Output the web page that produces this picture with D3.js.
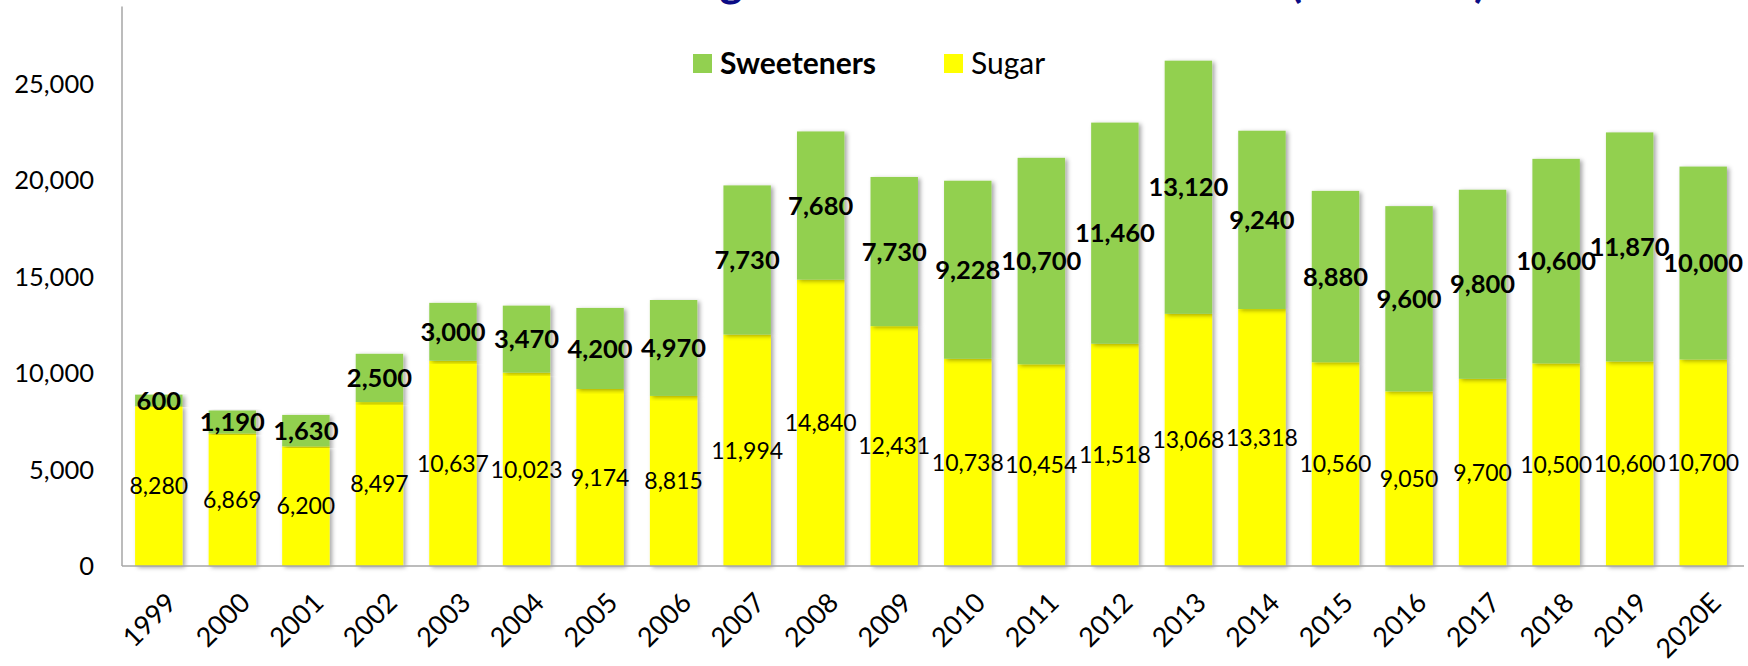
<!DOCTYPE html>
<html>
<head>
<meta charset="utf-8">
<script src="https://cdn.jsdelivr.net/npm/d3@7"></script>
<style>
  html, body { margin: 0; padding: 0; background: #fff; }
  svg { display: block; }
  text { font-family: Lato, "Open Sans", sans-serif; }
</style>
</head>
<body>
<svg id="chart" width="1748" height="666"></svg>
<script>
const years = ["1999","2000","2001","2002","2003","2004","2005","2006","2007","2008","2009","2010","2011","2012","2013","2014","2015","2016","2017","2018","2019","2020E"];
const sugar = [8280, 6869, 6200, 8497, 10637, 10023, 9174, 8815, 11994, 14840, 12431, 10738, 10454, 11518, 13068, 13318, 10560, 9050, 9700, 10500, 10600, 10700];
const sweeteners = [600, 1190, 1630, 2500, 3000, 3470, 4200, 4970, 7730, 7680, 7730, 9228, 10700, 11460, 13120, 9240, 8880, 9600, 9800, 10600, 11870, 10000];
const yTicks = [0, 5000, 10000, 15000, 20000, 25000];
const seriesNames = ["Sugar", "Sweeteners"];
const colors = { Sugar: "#FFFF00", Sweeteners: "#92D050" };
const titleText = "China Sugar and Sweeteners Demand (000 tons)";

const svg = d3.select("#chart");
const plot = { left: 122, right: 1740, bottom: 566 };

const table = years.map((y, i) => ({ year: y, Sugar: sugar[i], Sweeteners: sweeteners[i] }));
const stack = d3.stack().keys(seriesNames)(table);

const x = d3.scaleBand().domain(years).range([plot.left, plot.right]).paddingInner(0.355).paddingOuter(0.178);
const y = d3.scaleLinear().domain([0, 29000]).range([plot.bottom, plot.bottom - 29000 * 482.4 / 25000]);

// shadow filter
const defs = svg.append("defs");
const f = defs.append("filter").attr("id", "shadow").attr("x", "-20%").attr("y", "-5%").attr("width", "140%").attr("height", "110%");
f.append("feDropShadow").attr("dx", 2.5).attr("dy", 1.5).attr("stdDeviation", 2).attr("flood-color", "#000").attr("flood-opacity", 0.35);

// title (cropped at top, as in reference)
svg.append("text")
  .attr("x", 548).attr("y", -3)
  .attr("font-size", 44).attr("font-weight", "bold")
  .attr("fill", "#0B0B85")
  .text(titleText);

// bars
const layers = svg.append("g").selectAll("g").data(stack).join("g")
  .attr("fill", d => colors[d.key]);
layers.selectAll("rect").data(d => d).join("rect")
  .attr("x", d => x(d.data.year))
  .attr("width", x.bandwidth())
  .attr("y", d => y(d[1]))
  .attr("height", d => y(d[0]) - y(d[1]))
  .attr("filter", "url(#shadow)");

// axes lines
svg.append("line").attr("x1", plot.left).attr("x2", plot.left)
  .attr("y1", plot.bottom).attr("y2", y.range()[1])
  .attr("stroke", "#A6A6A6").attr("stroke-width", 1.5);
svg.append("line").attr("x1", plot.left).attr("x2", plot.right + 4)
  .attr("y1", plot.bottom).attr("y2", plot.bottom)
  .attr("stroke", "#A6A6A6").attr("stroke-width", 1.5);

// y tick labels
const fmt = d3.format(",");
svg.append("g").selectAll("text").data(yTicks).join("text")
  .attr("x", 94).attr("y", d => y(d))
  .attr("dy", "0.36em")
  .attr("text-anchor", "end")
  .attr("font-size", 25.5)
  .attr("fill", "#000")
  .text(d => fmt(d));

// x tick labels
svg.append("g").selectAll("text").data(years).join("text")
  .attr("transform", d => `translate(${x(d) + x.bandwidth() / 2 + 6},${plot.bottom + 25}) rotate(-45)`)
  .attr("text-anchor", "end")
  .attr("dy", "0.7em")
  .attr("font-size", 27)
  .attr("fill", "#000")
  .text(d => d);

// data labels
stack.forEach(layer => {
  const bold = layer.key === "Sweeteners";
  svg.append("g").selectAll("text").data(layer).join("text")
    .attr("x", d => x(d.data.year) + x.bandwidth() / 2)
    .attr("y", d => y((d[0] + d[1]) / 2))
    .attr("dy", "0.36em")
    .attr("text-anchor", "middle")
    .attr("font-size", bold ? 25.5 : 23)
    .attr("font-weight", bold ? "bold" : "normal")
    .attr("fill", "#000")
    .text(d => fmt(d[1] - d[0]));
});

// legend
const legendItems = [
  { name: "Sweeteners", x: 693, bold: true },
  { name: "Sugar", x: 944, bold: false }
];
const lg = svg.append("g").selectAll("g").data(legendItems).join("g")
  .attr("transform", d => `translate(${d.x},54)`);
lg.append("rect").attr("width", 19).attr("height", 19).attr("fill", d => colors[d.name]);
lg.append("text").attr("x", 27).attr("y", 20)
  .attr("font-size", 30)
  .attr("font-weight", d => d.bold ? "bold" : "normal")
  .attr("fill", "#000")
  .text(d => d.name);
</script>
</body>
</html>
